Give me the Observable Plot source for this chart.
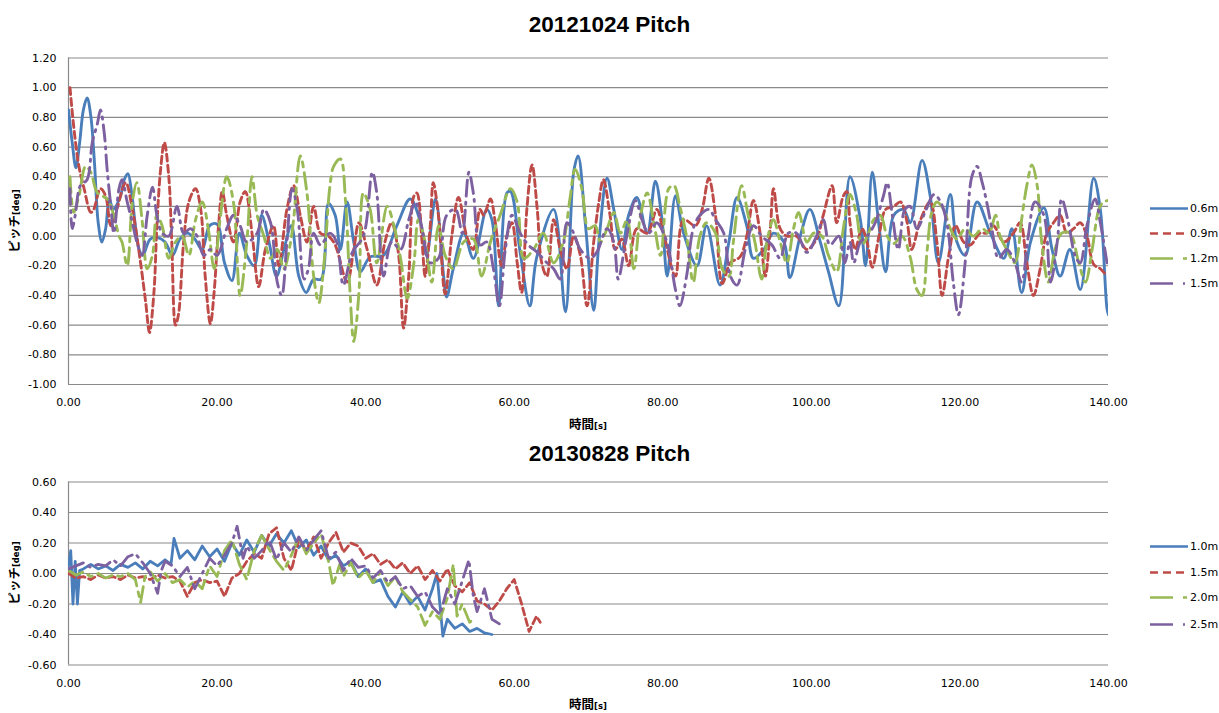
<!DOCTYPE html>
<html><head><meta charset="utf-8">
<script src="https://cdn.jsdelivr.net/npm/d3@7"></script>
<script src="https://cdn.jsdelivr.net/npm/@observablehq/plot@0.6"></script>
<style>
body{margin:0;background:#fff;}
#root{position:relative;width:1219px;height:713px;overflow:hidden;background:#fff;}
.title{position:absolute;left:0;width:1219px;text-align:center;font:bold 22.5px/22.5px "Liberation Sans",sans-serif;color:#000;}
.xt,.yt{position:absolute;font-family:"Noto Sans CJK JP",sans-serif;font-weight:bold;font-size:12.5px;line-height:1;white-space:nowrap;color:#000;}
.xt{transform:translate(-50%,-50%);}
.yt{transform:translate(-50%,-50%) rotate(-90deg);}
.xt small,.yt small{font-size:8.5px;font-family:"DejaVu Sans",sans-serif;}
.chart{position:absolute;left:0;}
.lg{position:absolute;left:1150px;display:flex;align-items:center;transform:translateY(-50%);white-space:nowrap;font:11px "DejaVu Sans",sans-serif;color:#000;}
.lg svg{display:block;margin-right:2px;}
</style></head>
<body><div id="root"></div>
<script>
// ---------- data ----------
const xTicks = [0, 20, 40, 60, 80, 100, 120, 140];
const yTicksTop = [-1.0, -0.8, -0.6, -0.4, -0.2, 0.0, 0.2, 0.4, 0.6, 0.8, 1.0, 1.2];
const yTicksBottom = [-0.6, -0.4, -0.2, 0.0, 0.2, 0.4, 0.6];

const topTitle = "20121024 Pitch";
const bottomTitle = "20130828 Pitch";
const topNames = ["0.6m", "0.9m", "1.2m", "1.5m"];
const bottomNames = ["1.0m", "1.5m", "2.0m", "2.5m"];
const colors = ["#4A7EBB", "#BE4B48", "#98B954", "#7D60A0"];

// [time s, pitch deg]
const top06 = [[0,0.85],[0.5,0.63],[1,0.46],[1.5,0.63],[2,0.85],[2.5,0.93],[3,0.81],[3.5,0.49],[4,0.09],[4.5,-0.04],[5,0.05],[5.5,0.25],[6,0.18],[7,0.27],[7.5,0.38],[8,0.42],[8.5,0.29],[9,0.07],[9.5,-0.09],[10,-0.13],[11,-0.02],[12,-0.01],[13,-0.04],[14,-0.13],[15,-0.02],[16,0.02],[17,-0.02],[18,-0.09],[19,0.07],[20,0.08],[21,-0.18],[22,-0.3],[23,0.02],[24,-0.13],[25,-0.2],[26,0.14],[27,-0.04],[28,-0.27],[29,-0.09],[30,0.07],[31,-0.27],[32,-0.38],[33,-0.29],[34,-0.29],[35,0.22],[35.9,0.14],[36.6,-0.09],[37.5,0.23],[38.4,-0.04],[39.3,-0.24],[40.6,-0.14],[42.4,-0.13],[44.2,0.07],[46,0.25],[47.4,0.09],[48.2,-0.13],[49.4,0.25],[50.5,-0.27],[50.9,-0.41],[51.8,-0.22],[53.2,0.02],[54.5,-0.15],[56.3,0.18],[57,0.11],[57.9,-0.47],[59,0.29],[59.5,0.3],[60.8,-0.11],[62.1,-0.47],[63,-0.15],[65.3,0.18],[66.9,-0.51],[68,0.43],[68.6,0.54],[69.6,0.07],[70.7,-0.5],[71.4,-0.04],[72.5,0.39],[73.4,0.18],[74.5,-0.09],[75.4,0.14],[76.5,0.26],[77.9,0.02],[79,0.37],[79.9,0.11],[80.6,-0.27],[81.7,0.27],[82.8,0.02],[84.6,-0.2],[85.9,0.07],[87.7,-0.33],[88.9,-0.04],[90,0.26],[91.3,0.07],[92.2,-0.15],[93.6,-0.09],[94.9,0.02],[96.3,-0.04],[97.1,-0.28],[98.5,0],[99.8,0.18],[101.2,-0.04],[102.3,-0.24],[103.7,-0.47],[105.2,0.4],[106.6,0.11],[107.3,-0.2],[108.2,0.43],[109.1,0.07],[110,-0.24],[111.1,0.14],[112.4,0.18],[113.3,0.09],[114.9,0.51],[116,0.27],[117.1,-0.18],[118.7,0.28],[119.6,-0.04],[120.7,-0.13],[122.3,0.23],[124.1,0.02],[125.9,-0.15],[127,0.05],[128.3,-0.38],[129.5,-0.04],[131.3,0.19],[132.4,-0.09],[133.5,-0.27],[134.8,-0.09],[136.2,-0.36],[138,0.39],[138.9,0.18],[139.8,-0.49],[140,-0.53]];

const top09 = [[0.2,1.0],[0.7,0.74],[1.4,0.47],[2.1,0.32],[3,0.16],[3.4,0.18],[4.3,0.32],[5,0.27],[5.7,0.07],[6.5,0.18],[7.7,0.36],[8.6,0.18],[9.7,-0.18],[10.4,-0.45],[10.9,-0.65],[11.5,-0.38],[11.9,0.07],[12.4,0.45],[12.9,0.63],[13.5,0.4],[13.9,-0.04],[14.4,-0.6],[14.8,-0.53],[15.5,-0.04],[16.2,0.23],[17.1,0.32],[17.8,0.18],[18.4,-0.27],[19.1,-0.59],[19.6,-0.38],[20.2,0.07],[20.7,0.3],[21.3,0.14],[22.2,-0.04],[23.1,0.23],[23.8,0.3],[24.7,0.02],[25.6,-0.34],[26.5,-0.09],[27.6,0.07],[28.3,-0.2],[29.4,0.18],[30.3,0.34],[31.2,0.14],[32.1,-0.04],[33,0.2],[33.9,0.02],[35,0],[35.9,-0.06],[37.5,-0.31],[38.4,-0.09],[39.1,0.09],[40.2,-0.09],[41.5,-0.33],[42.6,-0.04],[43.5,0.09],[44.4,-0.11],[45.1,-0.62],[45.8,-0.27],[46.5,0.27],[46.9,0.29],[47.6,-0.04],[48,-0.27],[48.7,0.07],[49.1,0.36],[49.8,0.14],[50.7,-0.39],[51.6,0],[52.5,0.26],[53.6,0],[54.5,-0.09],[55.4,0.18],[55.9,0.14],[56.8,0.25],[57.4,0.11],[58.3,-0.2],[59,0],[59.7,0.09],[60.4,-0.18],[61,-0.38],[61.7,0.18],[62.4,0.48],[63.1,0.18],[63.7,-0.18],[64.4,-0.27],[65.3,0.11],[66.2,-0.09],[67.1,-0.22],[68,0],[68.9,-0.13],[69.8,-0.47],[70.7,-0.04],[71.4,0.23],[72,0.38],[72.9,0.14],[73.6,-0.09],[74.5,-0.02],[75.4,-0.2],[76.5,0.05],[77.9,0.02],[79.2,0.18],[80.1,0.02],[81.7,-0.27],[82.8,0.11],[84.4,0.07],[85.3,0.18],[86.2,0.39],[87.1,0.14],[88,-0.32],[89.1,-0.18],[90.4,-0.14],[91.3,0],[92.2,0.24],[93.1,0.02],[93.8,-0.27],[94.5,0.07],[94.9,0.32],[95.8,0.05],[96.7,0],[98,0],[99.4,-0.09],[100.7,-0.02],[101.6,0.14],[102.8,0.34],[103.4,0.09],[104.3,0.27],[104.8,0.3],[105.2,0.09],[105.9,-0.09],[106.8,0.05],[107.5,-0.04],[108.2,-0.21],[109.1,0],[110,0.18],[111.1,0.2],[112,0.23],[112.9,0.09],[113.5,-0.09],[114.7,0.11],[116,0.23],[116.9,-0.04],[117.6,-0.4],[118.5,-0.13],[119.4,0.07],[120.5,-0.04],[121.4,-0.06],[122.7,0.02],[123.6,0.02],[124.5,0.07],[125.9,-0.04],[127.2,0.02],[128.1,0.09],[129,-0.18],[129.9,-0.4],[130.8,-0.22],[131.7,0.02],[132.6,0.09],[133.5,0.14],[134.4,0.02],[135.3,0.05],[136.2,0.09],[137.1,0],[138,-0.19],[138.9,-0.22],[139.8,-0.27]];

const top12 = [[0.2,0.4],[0.7,0.16],[1.4,0.27],[2.3,0.47],[3,0.43],[3.9,0.29],[5.2,0.25],[6.1,0.14],[6.8,0],[7.2,-0.04],[7.9,-0.2],[8.6,0.23],[9.2,0.36],[9.9,0.11],[10.6,-0.22],[11.3,-0.13],[11.9,0.14],[12.6,0.07],[13.5,-0.15],[14.4,-0.04],[15.3,0],[16.2,-0.13],[17.1,0.11],[18,0.23],[18.9,0.02],[19.6,-0.22],[20.4,0.11],[21.3,0.4],[22.2,0.23],[23.1,-0.4],[24,-0.04],[24.7,0.4],[25.4,0.14],[26.3,0],[27.2,-0.15],[28.1,-0.09],[29,-0.22],[29.9,-0.04],[30.3,0.11],[31.2,0.54],[32.1,0.29],[33,-0.27],[33.7,-0.45],[34.4,-0.18],[35.2,0.34],[35.7,0.47],[36.6,0.52],[37.3,0.23],[37.9,-0.38],[38.4,-0.71],[39.1,-0.38],[39.7,0.29],[40.6,0.18],[41.5,-0.18],[42.9,0.2],[43.8,0.07],[44.7,-0.15],[45.6,-0.42],[46.5,-0.18],[47.1,0.11],[48,-0.04],[48.9,-0.31],[49.8,0.07],[50.7,-0.13],[51.8,-0.22],[53.2,-0.04],[54.5,-0.02],[55.6,-0.27],[56.8,-0.04],[58.1,0.14],[59.5,0.32],[60.4,0.23],[61.3,-0.15],[62.6,-0.09],[63.9,0.02],[65.3,-0.18],[66.6,-0.04],[67.5,0.25],[68.2,0.45],[69.1,0.32],[70,0.05],[70.9,0.07],[71.6,-0.04],[72.5,0.05],[73.4,0.16],[74.3,0.02],[75.2,0.11],[76.1,-0.22],[77,0.14],[77.9,0.29],[78.8,0.09],[79.7,-0.13],[80.8,0.32],[81.5,0.34],[82.3,0.2],[83.2,0],[84.1,-0.31],[85,0],[85.9,0.09],[87.1,0.02],[88,-0.22],[88.9,-0.27],[89.5,-0.04],[90.6,0.34],[91.5,0.14],[92.4,-0.04],[93.3,-0.29],[94,-0.04],[94.9,0.11],[95.8,-0.04],[96.7,-0.18],[97.6,0.05],[98.3,0.16],[99.4,-0.04],[100.3,0.02],[101.4,0],[102.3,-0.13],[103.4,-0.24],[104.3,0.05],[105.2,0.28],[106.1,0.14],[106.8,-0.06],[107.7,0.02],[108.4,0.11],[109.3,0.14],[110.2,0],[111.1,-0.05],[112.2,0],[113.3,-0.14],[114.2,-0.36],[114.9,-0.4],[115.6,-0.09],[116.2,0.16],[116.9,0.23],[117.8,0.18],[118.7,0.05],[119.6,-0.02],[120.7,0.05],[121.8,0],[123,0.05],[123.9,0.02],[124.8,0.14],[125.4,0],[126.3,-0.09],[127.4,-0.18],[128.3,0.11],[129,0.34],[129.7,0.48],[130.4,0.34],[131,-0.04],[131.9,-0.31],[132.8,-0.09],[133.7,0.02],[134.8,0.02],[136,-0.18],[136.9,-0.31],[137.8,-0.09],[138.7,0.18],[139.3,0.23],[140,0.24]];

const top15 = [[0.2,0.32],[0.5,0.05],[0.9,0.14],[1.6,0.34],[2.5,0.38],[3.2,0.63],[3.9,0.76],[4.3,0.85],[4.8,0.7],[5.2,0.45],[5.7,0.2],[6.1,0.02],[6.8,0.32],[7.2,0.38],[7.9,0.23],[8.6,0.09],[9.2,-0.04],[9.9,-0.13],[10.6,0.14],[11.3,0.33],[11.9,0.14],[12.6,0.02],[13.5,0],[14.6,0.2],[15.5,0.02],[16.4,0.05],[17.3,0],[18.2,-0.13],[19.1,-0.09],[20,-0.13],[21.3,0.05],[22.2,0.14],[23.1,0.07],[24,-0.04],[25.4,0.02],[26.3,0.18],[27.2,0.09],[28.1,-0.31],[28.7,-0.4],[29.4,-0.04],[30.1,0.32],[30.8,0.18],[31.7,-0.29],[32.3,-0.22],[33,0.02],[33.9,-0.06],[35.2,0.02],[36.1,-0.04],[37,-0.33],[38.2,-0.11],[39.7,0],[40.9,0.43],[41.5,0.29],[42.4,-0.27],[43.5,-0.04],[44.7,-0.09],[45.8,0.11],[46.7,0.23],[47.6,0.05],[48.7,-0.18],[49.8,-0.15],[50.9,0.14],[52.1,0.18],[53,0.02],[53.9,0.43],[54.5,0.29],[55.4,-0.06],[56.3,-0.04],[57.2,-0.22],[58,-0.47],[58.8,-0.09],[59.7,0.14],[60.8,0.02],[61.9,-0.06],[63.1,-0.11],[64.4,-0.18],[65.3,-0.22],[66.2,-0.29],[67.1,0.09],[68,0.02],[68.9,-0.09],[70.2,-0.15],[71.1,-0.11],[72.5,0.05],[73.4,-0.04],[74,-0.29],[75,-0.04],[76.3,0.24],[77.2,0.11],[78.1,0.02],[79.2,0.09],[80.1,0.02],[80.8,-0.09],[81.7,-0.36],[82.3,-0.47],[83.2,-0.27],[84.1,0.05],[85,0.14],[86.2,0.18],[87.1,0.11],[88.2,0.02],[89.1,-0.27],[90,-0.33],[91.1,-0.09],[92.2,0.07],[93.3,0],[94.7,-0.06],[95.8,-0.15],[96.9,0.02],[98,0.02],[99.4,-0.11],[100.7,0],[101.6,0.11],[102.5,-0.06],[103.7,0],[104.5,-0.18],[105.2,-0.04],[105.7,-0.18],[106.6,-0.04],[107.5,0],[108.6,0.09],[109.7,0.27],[110.2,0.36],[110.9,0.14],[111.7,-0.09],[112.6,0.18],[113.3,0.2],[114.2,0.05],[115.3,0.16],[116.5,0.28],[117.4,0.23],[118.3,0.07],[119.1,-0.31],[119.8,-0.53],[120.7,-0.18],[121.6,0.4],[122.3,0.47],[123,0.36],[123.6,0.23],[124.3,0.05],[125.2,-0.15],[126.3,-0.09],[127.4,-0.18],[128.3,-0.31],[129.2,0],[130.1,0.23],[131.3,0.14],[132.2,-0.31],[133.1,-0.04],[133.7,0.25],[134.6,0.09],[135.5,-0.13],[136.2,-0.18],[137.1,0.07],[138.2,0.25],[138.9,0.09],[139.8,-0.18]];

const bot10 = [[0,0.05],[0.3,0.15],[0.6,-0.2],[0.9,0.08],[1.2,-0.2],[1.5,0.02],[2,0.03],[3,0.06],[4,0.03],[5,0.05],[6,0.02],[7,0.06],[8,0.04],[9,0.07],[10,0.03],[11,0.08],[12,0.05],[13,0.09],[13.8,0.06],[14.2,0.23],[15,0.1],[16,0.15],[17,0.09],[18,0.18],[19,0.11],[20,0.16],[21,0.08],[22,0.2],[23,0.12],[24,0.22],[25,0.14],[26,0.25],[27,0.18],[28,0.26],[29,0.2],[30,0.28],[31,0.17],[32,0.22],[33,0.12],[34,0.18],[35,0.09],[36,0.12],[37,0.05],[38,0.08],[39,-0.02],[40,0.03],[41,-0.06],[42,-0.04],[43,-0.15],[44,-0.22],[45,-0.12],[46,-0.2],[47,-0.15],[48,-0.24],[49,-0.1],[49.6,0],[50.4,-0.41],[51,-0.3],[52,-0.36],[53,-0.33],[54,-0.38],[55,-0.36],[56,-0.39],[57,-0.4]];

const bot15 = [[0,0],[1,-0.03],[2,-0.02],[3,-0.04],[4,-0.01],[5,-0.03],[6,-0.02],[7,-0.04],[8,-0.01],[9,-0.03],[10,-0.02],[11,-0.04],[12,-0.01],[13,-0.03],[14,-0.02],[15,-0.05],[16,-0.15],[17,-0.06],[18,-0.04],[19,-0.06],[20,-0.05],[21,-0.15],[22,-0.03],[23,0],[24,0.08],[25,0.13],[26,0.1],[27,0.26],[28,0.3],[29,0.1],[30,0.02],[31,0.22],[32,0.15],[33,0.24],[34,0.1],[35,0.2],[36,0.27],[37,0.14],[38,0.2],[39,0.18],[40,0.1],[41,0.13],[42,0.06],[43,0.09],[44,0.03],[45,0.07],[46,0],[47,0.05],[48,-0.04],[49,0.02],[50,-0.05],[51,0.03],[52,-0.08],[53,-0.12],[54,-0.06],[55,-0.18],[56,-0.2],[57,-0.24],[58,-0.18],[59,-0.1],[60,-0.04],[61,-0.2],[62,-0.38],[63,-0.28],[63.5,-0.32]];

const bot20 = [[0,0.02],[1,-0.01],[2,0.01],[3,-0.02],[4,0],[5,-0.03],[6,-0.01],[7,-0.02],[8,0],[9,-0.04],[9.7,-0.19],[10.3,-0.02],[11,0.01],[12,-0.05],[13,0],[14,-0.06],[15,-0.04],[16,-0.09],[17,-0.05],[18,-0.1],[19,0.05],[20,-0.02],[21,0.15],[22,0.22],[23,0.06],[24,-0.04],[25,0.15],[26,0.25],[27,0.16],[28,0.08],[29,0.02],[30,0.12],[31,0.24],[32,0.13],[33,0.2],[34,0.26],[35,0.08],[35.6,-0.08],[36.5,0.06],[37,-0.02],[38,0.07],[39,-0.03],[40,0.02],[41,-0.06],[42,0.01],[43,-0.08],[44,-0.02],[45,-0.12],[46,-0.17],[47,-0.22],[48,-0.34],[49,-0.25],[50,-0.3],[51,-0.16],[51.8,0.06],[52.3,-0.28],[53,-0.2],[54,-0.32],[54.5,-0.3]];

const bot25 = [[0,0.03],[1,0.05],[2,0.07],[3,0.04],[4,0.06],[5,0.05],[6,0.09],[7,0.05],[8,0.11],[9,0.13],[10,0.07],[11,0],[12,-0.13],[12.5,0.02],[13,0.08],[14,0.05],[15,-0.02],[16,0.04],[17,-0.1],[18,0],[19,0.1],[20,0.05],[21,0.12],[22,0.2],[22.7,0.31],[23.5,0.1],[24,0.18],[25,0.1],[26,0.15],[27,0.22],[28,0.09],[29,0.2],[30,0.14],[31,0.24],[32,0.15],[33,0.22],[34,0.28],[35,0.1],[36,0.14],[37,0.02],[38,0.1],[39,0.04],[40,0.05],[41,-0.03],[42,0.02],[43,-0.06],[44,-0.02],[45,-0.1],[46,-0.08],[47,-0.15],[48,-0.12],[49,-0.22],[50,-0.27],[51,-0.1],[52,-0.2],[53,-0.05],[53.9,0.09],[54.5,-0.15],[55,-0.25],[56,-0.1],[57,-0.3],[58,-0.33]];

// ---------- drawing ----------
const dashes = [null, "7,4", "16,6,5,6", "16,6,2,6"];
const legendDashes = [null, "8,5", "23,10,4,10", "23,10,2,10"];
const root = document.getElementById("root");

function chart({top, height, marginTop, marginBottom, yDomain, yTicks, series, curve, width}) {
  const svg = Plot.plot({
    width: 1219, height, marginTop, marginBottom, marginLeft: 68, marginRight: 111,
    x: {domain: [0, 140]},
    y: {domain: yDomain},
    style: {fontFamily: "DejaVu Sans, sans-serif", fontSize: "11px", color: "#000", background: "transparent"},
    marks: [
      Plot.ruleY(yTicks, {stroke: "#8a8a8a", strokeWidth: 1.2}),
      Plot.ruleX([0], {stroke: "#8a8a8a", strokeWidth: 1.2}),
      ...series.map((s, i) => Plot.line(s, {
        x: d => d[0], y: d => d[1], stroke: colors[i], strokeWidth: width,
        strokeDasharray: dashes[i], curve, clip: true
      })),
      Plot.axisX(xTicks, {tickSize: 0, tickPadding: 14, tickFormat: d => d.toFixed(2), label: null}),
      Plot.axisY(yTicks, {tickSize: 0, tickPadding: 12, tickFormat: d => d.toFixed(2), label: null})
    ]
  });
  svg.classList.add("chart");
  svg.style.top = top + "px";
  root.appendChild(svg);
}

function addTitle(text, top) {
  const d = document.createElement("div");
  d.className = "title"; d.textContent = text; d.style.top = top + "px";
  root.appendChild(d);
}
function addAxisTitles(xy, yy) {
  const x = document.createElement("div");
  x.className = "xt"; x.style.left = "588px"; x.style.top = xy + "px";
  x.innerHTML = "時間<small>[s]</small>";
  root.appendChild(x);
  const y = document.createElement("div");
  y.className = "yt"; y.style.left = "14px"; y.style.top = yy + "px";
  y.innerHTML = "ピッチ<small>[deg]</small>";
  root.appendChild(y);
}
function addLegend(names, rows) {
  names.forEach((n, i) => {
    const r = document.createElement("div");
    r.className = "lg"; r.style.top = rows[i] + "px";
    const ns = "http://www.w3.org/2000/svg";
    const s = document.createElementNS(ns, "svg");
    s.setAttribute("width", "38"); s.setAttribute("height", "8");
    const l = document.createElementNS(ns, "line");
    l.setAttribute("x1", "0"); l.setAttribute("x2", "38"); l.setAttribute("y1", "4"); l.setAttribute("y2", "4");
    l.setAttribute("stroke", colors[i]); l.setAttribute("stroke-width", "2.6");
    if (legendDashes[i]) l.setAttribute("stroke-dasharray", legendDashes[i]);
    s.appendChild(l);
    r.appendChild(s);
    const t = document.createElement("span"); t.textContent = n;
    r.appendChild(t);
    root.appendChild(r);
  });
}

addTitle(topTitle, 14);
chart({top: 40, height: 390, marginTop: 17.5, marginBottom: 46, yDomain: [-1, 1.2], yTicks: yTicksTop,
  series: [top06, top09, top12, top15], curve: "catmull-rom", width: 2.9});
addAxisTitles(424, 221);
addLegend(topNames, [208, 233, 258, 283]);

addTitle(bottomTitle, 443);
chart({top: 470, height: 240, marginTop: 11.5, marginBottom: 45.5, yDomain: [-0.6, 0.6], yTicks: yTicksBottom,
  series: [bot10, bot15, bot20, bot25], curve: "linear", width: 2.8});
addAxisTitles(704, 573);
addLegend(bottomNames, [546, 572, 597, 624]);
</script>
</body></html>
